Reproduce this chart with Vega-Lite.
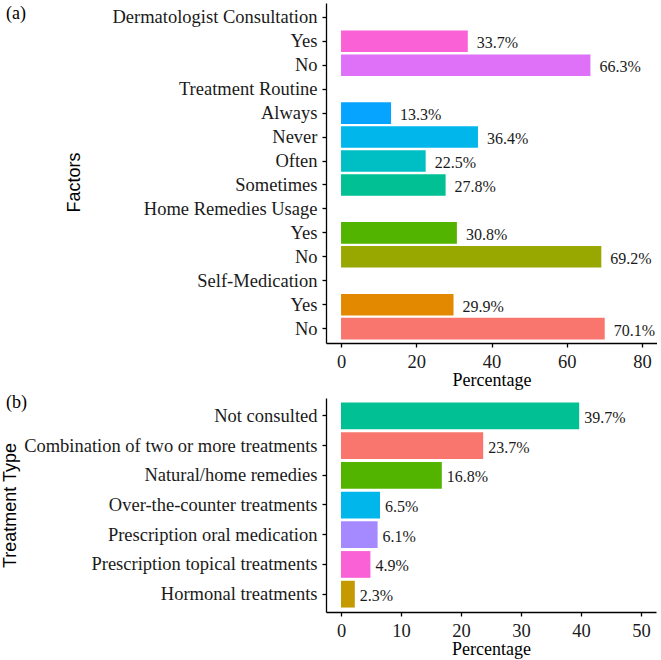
{
  "$schema": "https://vega.github.io/schema/vega-lite/v6.json",
  "padding": {"left": 1, "top": 3, "right": 0, "bottom": 0},
  "spacing": 4,
  "resolve": {"scale": {"color": "independent"}},
  "config": {
    "view": {"stroke": null},
    "axis": {
      "grid": false,
      "domainColor": "#000000",
      "domainWidth": 1.3,
      "tickColor": "#000000",
      "tickWidth": 1.3,
      "tickSize": 4,
      "labelFont": "Liberation Serif",
      "labelFontSize": 18.5,
      "labelColor": "#1a1a1a",
      "labelPadding": 5,
      "labelLimit": 400,
      "maxExtent": 400,
      "titleFontWeight": "normal",
      "titleColor": "#000000"
    },
    "axisX": {"titleFont": "Liberation Serif", "titleFontSize": 18, "titlePadding": 1},
    "axisY": {"titleFont": "Liberation Sans", "titleFontSize": 18},
    "title": {"font": "Liberation Serif", "fontSize": 18, "fontWeight": "normal", "color": "#000000"}
  },
  "vconcat": [
    {
      "title": {"text": "(a)", "anchor": "start", "frame": "group", "align": "left", "baseline": "middle", "offset": 0, "dx": -320, "dy": 29},
      "width": 331,
      "height": 340,
      "data": {
        "values": [
          {"key": "DC|Yes", "pct": 33.7},
          {"key": "DC|No", "pct": 66.3},
          {"key": "Always", "pct": 13.3},
          {"key": "Never", "pct": 36.4},
          {"key": "Often", "pct": 22.5},
          {"key": "Sometimes", "pct": 27.8},
          {"key": "HR|Yes", "pct": 30.8},
          {"key": "HR|No", "pct": 69.2},
          {"key": "SM|Yes", "pct": 29.9},
          {"key": "SM|No", "pct": 70.1}
        ]
      },
      "transform": [{"calculate": "format(datum.pct, '.1f') + '%'", "as": "lbl"}],
      "encoding": {
        "y": {
          "field": "key",
          "type": "nominal",
          "title": "Factors",
          "scale": {
            "domain": ["Dermatologist Consultation", "DC|Yes", "DC|No", "Treatment Routine", "Always", "Never", "Often", "Sometimes", "Home Remedies Usage", "HR|Yes", "HR|No", "Self-Medication", "SM|Yes", "SM|No"],
            "paddingInner": 0.1,
            "paddingOuter": 0.15
          },
          "axis": {"labelExpr": "peek(split(datum.value, '|'))", "titlePadding": 28, "titleY": 179}
        },
        "x": {
          "field": "pct",
          "type": "quantitative",
          "title": "Percentage",
          "scale": {"domain": [-4, 84], "nice": false, "zero": false},
          "axis": {"values": [0, 20, 40, 60, 80]}
        }
      },
      "layer": [
        {
          "mark": {"type": "bar"},
          "encoding": {
            "x2": {"datum": 0},
            "color": {
              "field": "key",
              "type": "nominal",
              "legend": null,
              "scale": {
                "domain": ["DC|Yes", "DC|No", "Always", "Never", "Often", "Sometimes", "HR|Yes", "HR|No", "SM|Yes", "SM|No"],
                "range": ["#FB61D7", "#DF70F8", "#06A4FF", "#00B6EB", "#00BFC4", "#00C094", "#53B400", "#99A800", "#E38900", "#F8766D"]
              }
            }
          }
        },
        {
          "mark": {"type": "text", "align": "left", "baseline": "middle", "dx": 9, "dy": 2, "font": "Liberation Serif", "fontSize": 16, "color": "#1a1a1a"},
          "encoding": {"text": {"field": "lbl"}}
        }
      ]
    },
    {
      "title": {"text": "(b)", "anchor": "start", "frame": "group", "align": "left", "baseline": "middle", "offset": 0, "dx": -320, "dy": 23},
      "width": 330,
      "height": 214,
      "data": {
        "values": [
          {"type": "Not consulted", "pct": 39.7},
          {"type": "Combination of two or more treatments", "pct": 23.7},
          {"type": "Natural/home remedies", "pct": 16.8},
          {"type": "Over-the-counter treatments", "pct": 6.5},
          {"type": "Prescription oral medication", "pct": 6.1},
          {"type": "Prescription topical treatments", "pct": 4.9},
          {"type": "Hormonal treatments", "pct": 2.3}
        ]
      },
      "transform": [{"calculate": "format(datum.pct, '.1f') + '%'", "as": "lbl"}],
      "encoding": {
        "y": {
          "field": "type",
          "type": "nominal",
          "title": "Treatment Type",
          "sort": null,
          "scale": {"paddingInner": 0.1, "paddingOuter": 0.15},
          "axis": {"titlePadding": 4}
        },
        "x": {
          "field": "pct",
          "type": "quantitative",
          "title": "Percentage",
          "scale": {"domain": [-2.5, 52.5], "nice": false, "zero": false},
          "axis": {"values": [0, 10, 20, 30, 40, 50]}
        }
      },
      "layer": [
        {
          "mark": {"type": "bar"},
          "encoding": {
            "x2": {"datum": 0},
            "color": {
              "field": "type",
              "type": "nominal",
              "legend": null,
              "scale": {
                "domain": ["Combination of two or more treatments", "Hormonal treatments", "Natural/home remedies", "Not consulted", "Over-the-counter treatments", "Prescription oral medication", "Prescription topical treatments"],
                "range": ["#F8766D", "#C49A00", "#53B400", "#00C094", "#00B6EB", "#A58AFF", "#FB61D7"]
              }
            }
          }
        },
        {
          "mark": {"type": "text", "align": "left", "baseline": "middle", "dx": 5, "dy": 2, "font": "Liberation Serif", "fontSize": 16, "color": "#1a1a1a"},
          "encoding": {"text": {"field": "lbl"}}
        }
      ]
    }
  ]
}
